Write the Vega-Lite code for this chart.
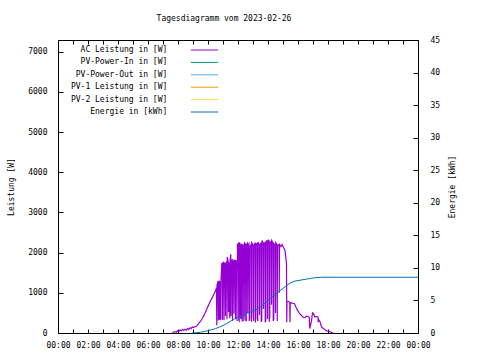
{
  "$schema": "https://vega.github.io/schema/vega-lite/v6.json",
  "autosize": {"type": "none"},
  "width": 360,
  "height": 293,
  "padding": {"left": 58, "top": 40, "right": 62, "bottom": 27},
  "background": "white",
  "title": {"text": "Tagesdiagramm vom 2023-02-26", "font": "DejaVu Sans Mono", "fontSize": 8, "fontWeight": "normal", "color": "black", "anchor": "middle", "dx": -14, "offset": 13},
  "config": {
    "font": "DejaVu Sans Mono",
    "view": {"stroke": "black", "strokeWidth": 1},
    "axis": {"domain": false, "grid": false, "tickColor": "black", "tickWidth": 1, "labelColor": "black", "labelFont": "DejaVu Sans Mono", "labelFontSize": 8, "titleFont": "DejaVu Sans Mono", "titleFontSize": 8, "titleFontWeight": "normal", "titleColor": "black"},
    "legend": {"labelFont": "DejaVu Sans Mono", "labelFontSize": 8, "labelColor": "black"}
  },
  "datasets": {
    "ac": [
      {"t": "2023-02-26T07:38", "w": 0}, {"t": "2023-02-26T07:42", "w": 25}, {"t": "2023-02-26T07:48", "w": 30}, {"t": "2023-02-26T07:53", "w": 20},
      {"t": "2023-02-26T07:58", "w": 55}, {"t": "2023-02-26T08:03", "w": 35}, {"t": "2023-02-26T08:08", "w": 75}, {"t": "2023-02-26T08:13", "w": 55},
      {"t": "2023-02-26T08:18", "w": 90}, {"t": "2023-02-26T08:23", "w": 65}, {"t": "2023-02-26T08:28", "w": 95}, {"t": "2023-02-26T08:33", "w": 70},
      {"t": "2023-02-26T08:38", "w": 110}, {"t": "2023-02-26T08:43", "w": 85}, {"t": "2023-02-26T08:48", "w": 130}, {"t": "2023-02-26T08:53", "w": 110},
      {"t": "2023-02-26T08:57", "w": 150}, {"t": "2023-02-26T09:02", "w": 135}, {"t": "2023-02-26T09:07", "w": 155}, {"t": "2023-02-26T09:12", "w": 165},
      {"t": "2023-02-26T09:17", "w": 190}, {"t": "2023-02-26T09:22", "w": 230}, {"t": "2023-02-26T09:27", "w": 270}, {"t": "2023-02-26T09:32", "w": 310},
      {"t": "2023-02-26T09:37", "w": 360}, {"t": "2023-02-26T09:42", "w": 420}, {"t": "2023-02-26T09:47", "w": 480}, {"t": "2023-02-26T09:52", "w": 550},
      {"t": "2023-02-26T09:57", "w": 620}, {"t": "2023-02-26T10:02", "w": 690}, {"t": "2023-02-26T10:07", "w": 760}, {"t": "2023-02-26T10:12", "w": 820},
      {"t": "2023-02-26T10:17", "w": 880}, {"t": "2023-02-26T10:22", "w": 950}, {"t": "2023-02-26T10:27", "w": 1010}, {"t": "2023-02-26T10:32", "w": 1080},
      {"t": "2023-02-26T10:34", "w": 1120}, {"t": "2023-02-26T10:35", "w": 190}, {"t": "2023-02-26T10:36", "w": 1180}, {"t": "2023-02-26T10:38", "w": 1240},
      {"t": "2023-02-26T10:40", "w": 1290}, {"t": "2023-02-26T10:41", "w": 310}, {"t": "2023-02-26T10:42", "w": 1260}, {"t": "2023-02-26T10:45", "w": 1300},
      {"t": "2023-02-26T10:46", "w": 330}, {"t": "2023-02-26T10:47", "w": 1230}, {"t": "2023-02-26T10:50", "w": 1280}, {"t": "2023-02-26T10:51", "w": 320},
      {"t": "2023-02-26T10:52", "w": 1310}, {"t": "2023-02-26T10:55", "w": 1720}, {"t": "2023-02-26T10:57", "w": 1750}, {"t": "2023-02-26T10:58", "w": 330},
      {"t": "2023-02-26T10:59", "w": 1720}, {"t": "2023-02-26T11:03", "w": 1770}, {"t": "2023-02-26T11:04", "w": 320}, {"t": "2023-02-26T11:05", "w": 1740},
      {"t": "2023-02-26T11:09", "w": 1710}, {"t": "2023-02-26T11:10", "w": 420}, {"t": "2023-02-26T11:11", "w": 1730}, {"t": "2023-02-26T11:15", "w": 1780},
      {"t": "2023-02-26T11:16", "w": 340}, {"t": "2023-02-26T11:17", "w": 1890}, {"t": "2023-02-26T11:21", "w": 1770}, {"t": "2023-02-26T11:22", "w": 520},
      {"t": "2023-02-26T11:23", "w": 1700}, {"t": "2023-02-26T11:26", "w": 1750}, {"t": "2023-02-26T11:27", "w": 370}, {"t": "2023-02-26T11:28", "w": 1790},
      {"t": "2023-02-26T11:31", "w": 1960}, {"t": "2023-02-26T11:32", "w": 420}, {"t": "2023-02-26T11:33", "w": 1800}, {"t": "2023-02-26T11:37", "w": 1820},
      {"t": "2023-02-26T11:38", "w": 300}, {"t": "2023-02-26T11:39", "w": 1780}, {"t": "2023-02-26T11:43", "w": 1800}, {"t": "2023-02-26T11:44", "w": 480},
      {"t": "2023-02-26T11:45", "w": 1810}, {"t": "2023-02-26T11:49", "w": 1800}, {"t": "2023-02-26T11:50", "w": 340}, {"t": "2023-02-26T11:51", "w": 1800},
      {"t": "2023-02-26T11:55", "w": 1790}, {"t": "2023-02-26T11:56", "w": 300}, {"t": "2023-02-26T11:58", "w": 2200}, {"t": "2023-02-26T12:02", "w": 2230},
      {"t": "2023-02-26T12:03", "w": 320}, {"t": "2023-02-26T12:05", "w": 300}, {"t": "2023-02-26T12:06", "w": 2250}, {"t": "2023-02-26T12:09", "w": 2200},
      {"t": "2023-02-26T12:10", "w": 400}, {"t": "2023-02-26T12:12", "w": 350}, {"t": "2023-02-26T12:13", "w": 2180}, {"t": "2023-02-26T12:16", "w": 2220},
      {"t": "2023-02-26T12:17", "w": 280}, {"t": "2023-02-26T12:18", "w": 2150}, {"t": "2023-02-26T12:22", "w": 2200}, {"t": "2023-02-26T12:23", "w": 300},
      {"t": "2023-02-26T12:25", "w": 450}, {"t": "2023-02-26T12:26", "w": 2260}, {"t": "2023-02-26T12:30", "w": 2200}, {"t": "2023-02-26T12:31", "w": 330},
      {"t": "2023-02-26T12:33", "w": 290}, {"t": "2023-02-26T12:34", "w": 2200}, {"t": "2023-02-26T12:38", "w": 2240}, {"t": "2023-02-26T12:39", "w": 500},
      {"t": "2023-02-26T12:40", "w": 2180}, {"t": "2023-02-26T12:44", "w": 2220}, {"t": "2023-02-26T12:45", "w": 300}, {"t": "2023-02-26T12:47", "w": 350},
      {"t": "2023-02-26T12:48", "w": 2150}, {"t": "2023-02-26T12:53", "w": 2200}, {"t": "2023-02-26T12:54", "w": 280}, {"t": "2023-02-26T12:55", "w": 2250},
      {"t": "2023-02-26T13:00", "w": 2200}, {"t": "2023-02-26T13:01", "w": 420}, {"t": "2023-02-26T13:03", "w": 300}, {"t": "2023-02-26T13:04", "w": 2180},
      {"t": "2023-02-26T13:09", "w": 2250}, {"t": "2023-02-26T13:10", "w": 260}, {"t": "2023-02-26T13:11", "w": 2200}, {"t": "2023-02-26T13:16", "w": 2230},
      {"t": "2023-02-26T13:17", "w": 350}, {"t": "2023-02-26T13:19", "w": 300}, {"t": "2023-02-26T13:20", "w": 2260}, {"t": "2023-02-26T13:25", "w": 2200},
      {"t": "2023-02-26T13:26", "w": 450}, {"t": "2023-02-26T13:27", "w": 2150}, {"t": "2023-02-26T13:32", "w": 2250}, {"t": "2023-02-26T13:33", "w": 280},
      {"t": "2023-02-26T13:35", "w": 320}, {"t": "2023-02-26T13:36", "w": 2300}, {"t": "2023-02-26T13:41", "w": 2240}, {"t": "2023-02-26T13:42", "w": 600},
      {"t": "2023-02-26T13:43", "w": 2200}, {"t": "2023-02-26T13:48", "w": 2260}, {"t": "2023-02-26T13:49", "w": 270}, {"t": "2023-02-26T13:51", "w": 300},
      {"t": "2023-02-26T13:52", "w": 2280}, {"t": "2023-02-26T13:57", "w": 2300}, {"t": "2023-02-26T13:58", "w": 350}, {"t": "2023-02-26T13:59", "w": 2250},
      {"t": "2023-02-26T14:04", "w": 2320}, {"t": "2023-02-26T14:05", "w": 280}, {"t": "2023-02-26T14:07", "w": 400}, {"t": "2023-02-26T14:08", "w": 2250},
      {"t": "2023-02-26T14:13", "w": 2280}, {"t": "2023-02-26T14:14", "w": 700}, {"t": "2023-02-26T14:15", "w": 2300}, {"t": "2023-02-26T14:20", "w": 2250},
      {"t": "2023-02-26T14:21", "w": 300}, {"t": "2023-02-26T14:23", "w": 350}, {"t": "2023-02-26T14:24", "w": 2220}, {"t": "2023-02-26T14:29", "w": 2200},
      {"t": "2023-02-26T14:30", "w": 500}, {"t": "2023-02-26T14:31", "w": 2250}, {"t": "2023-02-26T14:36", "w": 2200}, {"t": "2023-02-26T14:37", "w": 300},
      {"t": "2023-02-26T14:38", "w": 2180}, {"t": "2023-02-26T14:44", "w": 2200}, {"t": "2023-02-26T14:45", "w": 1000}, {"t": "2023-02-26T14:46", "w": 2200},
      {"t": "2023-02-26T14:52", "w": 2150}, {"t": "2023-02-26T14:56", "w": 2200}, {"t": "2023-02-26T15:00", "w": 2150}, {"t": "2023-02-26T15:04", "w": 2100},
      {"t": "2023-02-26T15:08", "w": 2050}, {"t": "2023-02-26T15:11", "w": 1900}, {"t": "2023-02-26T15:14", "w": 1720}, {"t": "2023-02-26T15:15", "w": 270},
      {"t": "2023-02-26T15:16", "w": 800}, {"t": "2023-02-26T15:20", "w": 790}, {"t": "2023-02-26T15:24", "w": 780}, {"t": "2023-02-26T15:27", "w": 760},
      {"t": "2023-02-26T15:28", "w": 270}, {"t": "2023-02-26T15:29", "w": 740}, {"t": "2023-02-26T15:34", "w": 750}, {"t": "2023-02-26T15:40", "w": 740},
      {"t": "2023-02-26T15:46", "w": 730}, {"t": "2023-02-26T15:52", "w": 640}, {"t": "2023-02-26T15:58", "w": 570}, {"t": "2023-02-26T16:04", "w": 510},
      {"t": "2023-02-26T16:10", "w": 460}, {"t": "2023-02-26T16:16", "w": 420}, {"t": "2023-02-26T16:22", "w": 385}, {"t": "2023-02-26T16:28", "w": 380},
      {"t": "2023-02-26T16:34", "w": 420}, {"t": "2023-02-26T16:40", "w": 410}, {"t": "2023-02-26T16:45", "w": 390}, {"t": "2023-02-26T16:47", "w": 110},
      {"t": "2023-02-26T16:50", "w": 190}, {"t": "2023-02-26T16:54", "w": 300}, {"t": "2023-02-26T16:58", "w": 500}, {"t": "2023-02-26T17:02", "w": 480},
      {"t": "2023-02-26T17:08", "w": 400}, {"t": "2023-02-26T17:14", "w": 410}, {"t": "2023-02-26T17:20", "w": 400}, {"t": "2023-02-26T17:21", "w": 270},
      {"t": "2023-02-26T17:24", "w": 320}, {"t": "2023-02-26T17:28", "w": 280}, {"t": "2023-02-26T17:34", "w": 150}, {"t": "2023-02-26T17:40", "w": 120},
      {"t": "2023-02-26T17:46", "w": 90}, {"t": "2023-02-26T17:52", "w": 60}, {"t": "2023-02-26T17:58", "w": 50}, {"t": "2023-02-26T18:04", "w": 40},
      {"t": "2023-02-26T18:12", "w": 20}, {"t": "2023-02-26T18:18", "w": 5}, {"t": "2023-02-26T18:22", "w": 0}
    ],
    "energie": [
      {"t": "2023-02-26T08:55", "e": 0}, {"t": "2023-02-26T09:15", "e": 0.05}, {"t": "2023-02-26T09:30", "e": 0.12}, {"t": "2023-02-26T09:45", "e": 0.22},
      {"t": "2023-02-26T10:00", "e": 0.35}, {"t": "2023-02-26T10:15", "e": 0.5}, {"t": "2023-02-26T10:30", "e": 0.68}, {"t": "2023-02-26T10:45", "e": 0.9},
      {"t": "2023-02-26T11:00", "e": 1.15}, {"t": "2023-02-26T11:15", "e": 1.45}, {"t": "2023-02-26T11:30", "e": 1.8}, {"t": "2023-02-26T11:45", "e": 2.15},
      {"t": "2023-02-26T12:00", "e": 2.45}, {"t": "2023-02-26T12:15", "e": 2.7}, {"t": "2023-02-26T12:30", "e": 2.95}, {"t": "2023-02-26T12:45", "e": 3.15},
      {"t": "2023-02-26T13:00", "e": 3.4}, {"t": "2023-02-26T13:15", "e": 3.65}, {"t": "2023-02-26T13:30", "e": 4.0}, {"t": "2023-02-26T13:45", "e": 4.5},
      {"t": "2023-02-26T14:00", "e": 5.0}, {"t": "2023-02-26T14:15", "e": 5.5}, {"t": "2023-02-26T14:30", "e": 5.95}, {"t": "2023-02-26T14:45", "e": 6.4},
      {"t": "2023-02-26T15:00", "e": 6.85}, {"t": "2023-02-26T15:15", "e": 7.3}, {"t": "2023-02-26T15:30", "e": 7.7}, {"t": "2023-02-26T15:45", "e": 7.95},
      {"t": "2023-02-26T16:00", "e": 8.05}, {"t": "2023-02-26T16:15", "e": 8.15}, {"t": "2023-02-26T16:30", "e": 8.25}, {"t": "2023-02-26T16:45", "e": 8.35},
      {"t": "2023-02-26T17:00", "e": 8.45}, {"t": "2023-02-26T17:15", "e": 8.52}, {"t": "2023-02-26T17:30", "e": 8.55}, {"t": "2023-02-26T18:00", "e": 8.56},
      {"t": "2023-02-27T00:00", "e": 8.56}
    ]
  },
  "layer": [
    {
      "data": {"name": "ac"},
      "mark": {"type": "line", "strokeWidth": 1.2},
      "encoding": {
        "x": {
          "field": "t", "type": "temporal",
          "scale": {"domain": ["2023-02-26T00:00", "2023-02-27T00:00"]},
          "axis": {"title": null, "orient": "bottom", "tickCount": 24, "tickSize": -4, "labelPadding": 12, "labelFlush": false, "labelOverlap": false,
                   "labelExpr": "hours(datum.value) % 2 == 0 ? timeFormat(datum.value, '%H:%M') : ''"}
        },
        "y": {
          "field": "w", "type": "quantitative",
          "scale": {"domain": [0, 7290]},
          "axis": {"title": "Leistung [W]", "values": [0, 1000, 2000, 3000, 4000, 5000, 6000, 7000], "format": "d", "tickSize": -5, "labelPadding": 16, "titlePadding": 12}
        },
        "color": {
          "datum": "AC Leistung in [W]", "type": "nominal",
          "scale": {"domain": ["AC Leistung in [W]", "PV-Power-In in [W]", "PV-Power-Out in [W]", "PV-1 Leistung in [W]", "PV-2 Leistung in [W]", "Energie in [kWh]"],
                    "range": ["#9400d3", "#009e73", "#56b4e9", "#e69f00", "#f0e442", "#0072b2"]},
          "legend": {"title": null, "orient": "none", "legendX": 139.5, "legendY": 3, "symbolType": "M-2.2,0L2.2,0", "symbolSize": 154, "symbolStrokeWidth": 1, "symbolFillColor": "transparent", "labelAlign": "right", "labelOffset": -44.2, "rowPadding": 1.4}
        }
      }
    },
    {
      "data": {"name": "energie"},
      "mark": {"type": "line", "strokeWidth": 1},
      "encoding": {
        "x": {"field": "t", "type": "temporal",
              "axis": {"title": null, "orient": "top", "labels": false, "tickCount": 24, "tickSize": -4}},
        "y": {
          "field": "e", "type": "quantitative",
          "scale": {"domain": [0, 45]},
          "axis": {"title": "Energie [kWh]", "orient": "right", "values": [0, 5, 10, 15, 20, 25, 30, 35, 40, 45], "tickSize": -5, "labelPadding": 17, "titleAngle": -90, "titlePadding": 17}
        },
        "color": {"datum": "Energie in [kWh]", "type": "nominal"}
      }
    }
  ],
  "resolve": {"scale": {"y": "independent"}, "axis": {"x": "independent"}}
}
